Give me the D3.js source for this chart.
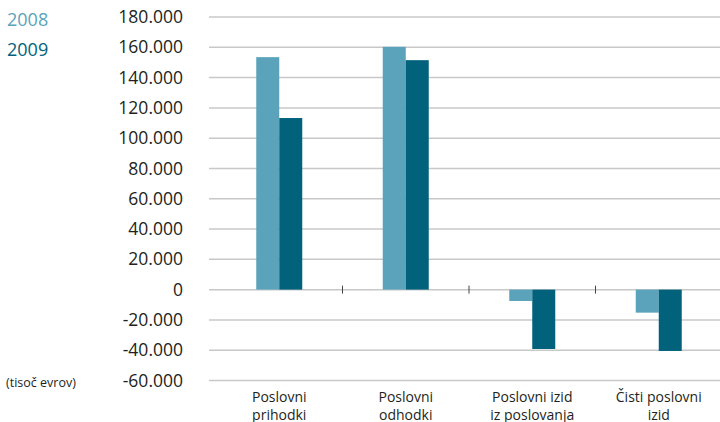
<!DOCTYPE html>
<html>
<head>
<meta charset="utf-8">
<script src="https://cdn.jsdelivr.net/npm/d3@7"></script>
<style>
  body { margin: 0; background: #fff; }
  text { font-family: "Open Sans", "Noto Sans", sans-serif; }
</style>
</head>
<body>
<div id="chart"></div>
<script>
// data //
var categories = [["Poslovni", "prihodki"], ["Poslovni", "odhodki"], ["Poslovni izid", "iz poslovanja"], ["Čisti poslovni", "izid"]];
var years = ["2008", "2009"];
var values2008 = [153500, 160300, -7500, -15200];
var values2009 = [113300, 151500, -39200, -40500];
var yTicks = [-60000, -40000, -20000, 0, 20000, 40000, 60000, 80000, 100000, 120000, 140000, 160000, 180000];
var colors = ["#5aa3bb", "#02627c"];

var width = 720, height = 422;
var svg = d3.select("#chart").append("svg")
  .attr("width", width)
  .attr("height", height);

var yScale = d3.scaleLinear()
  .domain([-60000, 180000])
  .range([380.5, 17]);

var xScale = d3.scaleBand()
  .domain(d3.range(categories.length))
  .range([216, 722]);

var barW = 23;
var fmt = function(v) {
  var s = d3.format(",")(v).replace(/,/g, ".");
  return s.replace("−", "-");
};

// gridlines
svg.append("g").selectAll("line")
  .data(yTicks)
  .enter().append("line")
  .attr("x1", 209).attr("x2", 720)
  .attr("y1", d => yScale(d)).attr("y2", d => yScale(d))
  .attr("stroke", "#c8c8c8")
  .attr("stroke-width", 1.5);

// y axis labels
var yAxis = d3.axisLeft(yScale)
  .tickValues(yTicks)
  .tickSize(0)
  .tickPadding(0)
  .tickFormat(fmt);

svg.append("g")
  .attr("transform", "translate(183,0)")
  .call(yAxis)
  .call(g => g.select(".domain").remove())
  .selectAll("text")
  .attr("font-size", "17.5px")
  .attr("fill", "#231f20")
  .attr("font-family", "'Open Sans', 'Noto Sans', sans-serif");

// bars
var series = [values2008, values2009];
series.forEach(function(vals, s) {
  svg.append("g").selectAll("rect")
    .data(vals)
    .enter().append("rect")
    .attr("x", (d, i) => xScale(i) + xScale.bandwidth() / 2 - barW + s * barW)
    .attr("width", barW)
    .attr("y", d => yScale(Math.max(0, d)))
    .attr("height", d => Math.abs(yScale(d) - yScale(0)))
    .attr("fill", colors[s]);
});

// small ticks between categories
svg.append("g").selectAll("line")
  .data(d3.range(1, categories.length))
  .enter().append("line")
  .attr("x1", d => xScale(d)).attr("x2", d => xScale(d))
  .attr("y1", yScale(0) - 4).attr("y2", yScale(0) + 4)
  .attr("stroke", "#444")
  .attr("stroke-width", 1);

// category labels
var labels = svg.append("g").selectAll("text")
  .data(categories)
  .enter().append("text")
  .attr("x", (d, i) => xScale(i) + xScale.bandwidth() / 2)
  .attr("y", 401.5)
  .attr("text-anchor", "middle")
  .attr("font-size", "14px")
  .attr("fill", "#231f20");

labels.selectAll("tspan")
  .data(d => d)
  .enter().append("tspan")
  .attr("x", function() { return d3.select(this.parentNode).attr("x"); })
  .attr("dy", (d, i) => i === 0 ? 0 : 18)
  .text(d => d);

// legend
svg.append("g").selectAll("text")
  .data(years)
  .enter().append("text")
  .attr("x", 7)
  .attr("y", (d, i) => 26 + i * 30)
  .attr("font-size", "18px")
  .attr("fill", (d, i) => colors[i])
  .text(d => d);

// unit
svg.append("text")
  .attr("x", 6)
  .attr("y", 387)
  .attr("font-size", "12.5px")
  .attr("fill", "#231f20")
  .text("(tisoč evrov)");
</script>
</body>
</html>
